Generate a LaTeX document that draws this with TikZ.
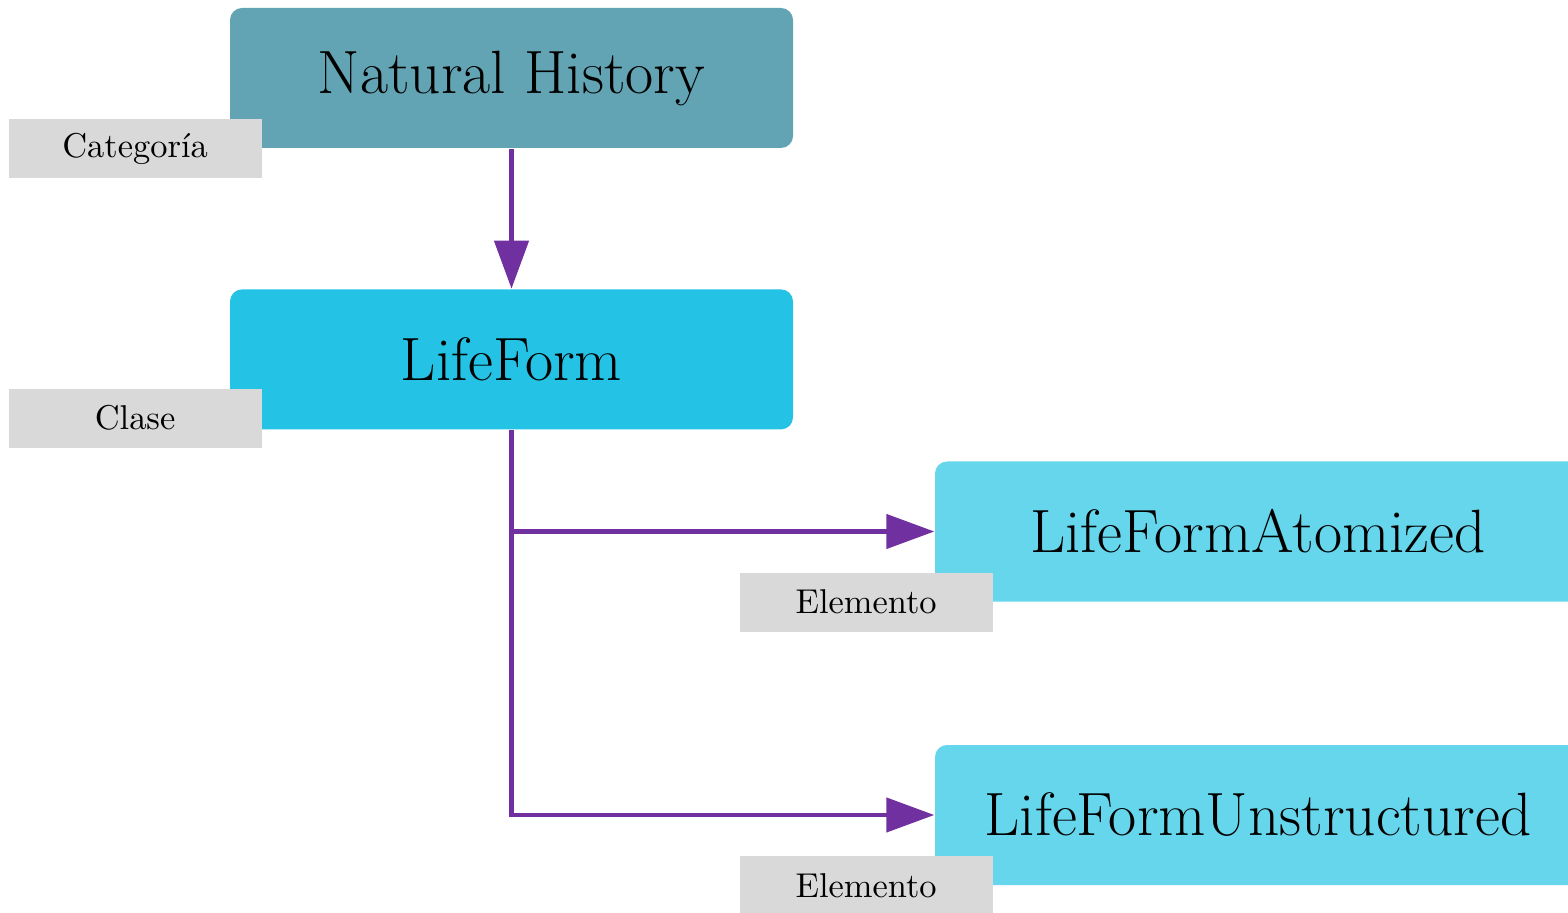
\documentclass[tikz,border=0pt]{standalone}
\usepackage{tikz}
\usetikzlibrary{positioning,arrows.meta}
\definecolor{histcol}{RGB}{98,164,179}
\definecolor{classcol}{RGB}{36,195,229}
\definecolor{elemcol}{RGB}{102,214,236}
\definecolor{tagcol}{RGB}{217,217,217}
\definecolor{linkcol}{RGB}{112,48,160}

\begin{document}
\begin{tikzpicture}[
	box/.style={rounded corners=0.12cm, minimum width=5.63cm, minimum height=1.40cm, inner sep=0pt, font=\fontsize{17.4}{20}\selectfont},
	tag/.style={fill=tagcol, minimum width=2.53cm, minimum height=0.59cm, inner sep=0pt, font=\fontsize{9.8}{11}\selectfont},
	link/.style={draw=linkcol, line width=0.045cm, -{Triangle[length=0.48cm,width=0.34cm]}}]
	\useasboundingbox (0, 0) rectangle (15.68, -9.13);
	\clip (0, 0) rectangle (15.68, -9.13);
	\node[box, fill=histcol] (history) at (5.115, -0.78) {Natural History};
	\node[box, fill=classcol, below=1.40cm of history] (lifeform) {LifeForm};
	\node[box, fill=elemcol, minimum width=6.46cm] (atomized) at (12.58, -5.315) {LifeFormAtomized};
	\node[box, fill=elemcol, minimum width=6.46cm] (unstructured) at (12.58, -8.15) {LifeFormUnstructured};
	\node[tag, anchor=east] (categoria) at ([xshift=0.33cm]history.south west) {Categoría};
	\node[tag, anchor=east] (clase) at ([xshift=0.33cm, yshift=0.12cm]lifeform.south west) {Clase};
	\node[tag, anchor=east] (elemento1) at ([xshift=0.59cm]atomized.south west) {Elemento};
	\node[tag, anchor=east] (elemento2) at ([xshift=0.59cm]unstructured.south west) {Elemento};
	\draw[link] (history) -- (lifeform);
	\draw[link] (lifeform.south) |- (atomized.west);
	\draw[link] (lifeform.south) |- (unstructured.west);
\end{tikzpicture}
\end{document}
